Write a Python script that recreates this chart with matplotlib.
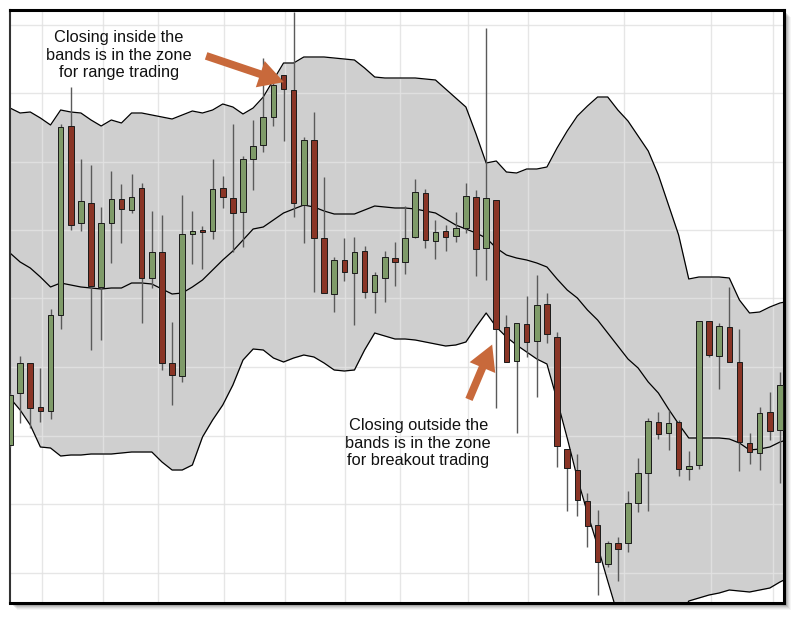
import matplotlib
matplotlib.use("Agg")
import matplotlib.pyplot as plt
from matplotlib.patches import Rectangle
import numpy as np

plt.rcParams['font.family'] = ['Liberation Sans', 'DejaVu Sans']

# ---- data (arbitrary price units) ----
opens = [17.5, 22.7, 25.7, 21.3, 20.9, 30.5, 49.4, 39.7, 41.7, 33.3,
         39.7, 42.1, 41.0, 43.2, 34.2, 36.8, 25.7, 24.4, 38.6, 39.0,
         38.9, 43.2, 42.2, 40.8, 46.1, 47.5, 50.3, 54.5, 53.0, 41.5,
         48.0, 38.2, 32.6, 36.0, 34.7, 36.9, 32.8, 34.2, 36.2, 35.8,
         38.3, 42.7, 37.9, 38.9, 38.4, 39.2, 42.3, 37.2, 42.0, 29.3,
         25.9, 29.6, 27.9, 31.6, 28.3, 17.1, 15.0, 11.9, 9.5, 5.6,
         7.7, 7.7, 11.7, 14.7, 19.8, 18.7, 19.8, 15.1, 15.5, 29.9,
         26.4, 29.3, 25.8, 17.7, 16.7, 20.8, 19.0]
highs = [22.7, 26.4, 25.7, 25.2, 31.1, 49.6, 53.3, 46.1, 45.5, 41.3,
         44.9, 43.6, 44.6, 43.7, 40.9, 40.5, 29.8, 42.5, 40.9, 39.4,
         46.1, 44.4, 49.6, 46.4, 50.0, 56.2, 54.0, 54.5, 60.8, 48.3,
         50.8, 44.3, 36.3, 38.2, 38.3, 37.4, 34.8, 36.9, 37.8, 41.4,
         44.1, 43.1, 40.0, 39.5, 40.8, 43.7, 43.0, 59.2, 42.0, 30.5,
         29.7, 32.4, 34.5, 32.7, 28.8, 17.1, 16.6, 12.7, 11.0, 7.9,
         8.3, 12.9, 16.2, 20.2, 20.8, 21.0, 20.0, 16.9, 29.9, 29.9,
         29.7, 33.3, 29.1, 18.7, 21.3, 22.8, 24.8]
lows = [17.3, 19.7, 19.2, 19.8, 20.1, 29.1, 39.0, 38.9, 27.0, 28.0,
        35.7, 37.7, 40.7, 29.7, 33.2, 25.0, 21.5, 23.8, 35.6, 35.1,
        38.1, 41.2, 36.8, 37.3, 43.0, 46.8, 49.4, 47.9, 40.3, 37.7,
        32.8, 32.7, 30.8, 33.9, 29.5, 32.2, 30.7, 31.8, 33.4, 34.6,
        38.2, 37.2, 36.1, 36.9, 37.8, 38.7, 34.4, 34.0, 21.2, 25.8,
        18.7, 26.3, 22.3, 27.7, 15.3, 10.9, 10.4, 7.3, 2.5, 5.3,
        3.9, 6.8, 10.8, 10.9, 18.1, 17.0, 14.4, 14.0, 15.1, 26.3,
        23.1, 25.8, 14.9, 15.6, 15.0, 18.0, 13.7]
closes = [22.5, 25.7, 21.2, 20.9, 30.5, 49.3, 39.5, 41.9, 33.4, 39.7,
          42.1, 41.1, 42.3, 34.2, 36.8, 25.7, 24.5, 38.6, 38.9, 38.8,
          43.1, 42.3, 40.7, 46.1, 47.4, 50.3, 53.5, 53.1, 41.7, 48.0,
          38.2, 32.7, 36.0, 34.8, 36.8, 32.8, 34.5, 36.3, 35.8, 38.2,
          42.8, 38.0, 38.8, 38.3, 39.2, 42.4, 37.1, 42.2, 29.1, 25.8,
          29.7, 27.8, 31.5, 28.6, 17.4, 15.2, 12.0, 9.4, 5.8, 7.7,
          7.1, 11.7, 14.7, 19.9, 18.6, 19.7, 15.1, 15.4, 29.9, 26.5,
          29.4, 25.8, 17.8, 16.8, 20.7, 18.9, 23.5]

# band values, one per candle plus one at the right edge of the chart
upper_band = [51.2, 50.7, 50.8, 50.2, 49.5, 51.0, 50.8, 50.7, 50.0, 49.4,
              50.0, 49.7, 50.7, 50.7, 50.5, 50.3, 50.1, 50.5, 50.9, 50.7,
              51.0, 51.6, 51.3, 50.6, 51.2, 52.3, 54.0, 55.7, 55.7, 56.3,
              56.3, 56.3, 56.2, 56.1, 56.0, 55.2, 54.3, 54.2, 54.2, 54.2,
              54.2, 54.1, 54.0, 53.1, 52.2, 51.3, 48.6, 45.7, 45.9, 44.8,
              44.7, 45.1, 45.1, 45.3, 47.2, 48.9, 50.4, 51.4, 52.3, 52.3,
              51.0, 49.9, 48.4, 46.9, 44.5, 41.5, 38.5, 34.1, 34.3, 34.3,
              34.3, 34.2, 32.0, 30.7, 30.8, 31.3, 31.7, 31.9]
middle_band = [36.7, 35.8, 35.2, 34.3, 33.3, 33.7, 33.5, 33.3, 33.2, 33.1,
               33.2, 33.2, 33.7, 33.7, 33.6, 33.1, 32.6, 32.7, 33.3, 34.0,
               35.0, 36.0, 36.9, 38.0, 39.1, 39.3, 40.0, 40.7, 41.1, 41.5,
               41.3, 40.9, 40.6, 40.6, 40.6, 41.0, 41.4, 41.3, 41.2, 41.2,
               41.1, 40.9, 40.7, 40.1, 39.5, 39.1, 38.7, 38.2, 37.2, 36.5,
               36.2, 36.0, 35.7, 35.3, 34.1, 33.0, 32.2, 31.0, 30.0, 28.7,
               27.4, 26.1, 25.2, 23.8, 22.7, 21.1, 19.6, 18.2, 18.2, 18.2,
               18.2, 18.1, 17.7, 17.0, 17.1, 17.3, 17.8, 18.1]
lower_band = [22.2, 21.0, 19.5, 17.3, 17.2, 16.4, 16.5, 16.5, 16.6, 16.6,
              16.6, 16.7, 16.8, 16.8, 16.8, 15.8, 15.0, 15.0, 15.5, 18.3,
              20.0, 21.5, 23.5, 26.0, 27.1, 27.0, 26.2, 25.8, 26.2, 26.5,
              26.3, 25.7, 25.0, 24.9, 25.0, 27.0, 28.7, 28.4, 28.1, 28.1,
              28.0, 27.8, 27.6, 27.4, 27.5, 27.8, 29.3, 30.7, 29.3, 28.3,
              27.5, 26.8, 26.1, 25.6, 22.0, 18.2, 14.2, 10.7, 7.4, 3.9,
              0.5, -1.0, -2.0, -2.5, -2.5, -1.5, 0.0, 1.9, 2.2, 2.5,
              2.7, 3.0, 2.9, 2.8, 3.0, 3.2, 3.8, 4.3]

label_range = "Closing inside the\nbands is in the zone\nfor range trading"
label_breakout = "Closing outside the\nbands is in the zone\nfor breakout trading"

# ---- styling ----
GREEN = '#7f9b69'
RED = '#8a3526'
BAND_FILL = '#cfcfcf'
ARROW = '#c8693b'

W, H = 800, 617
fig = plt.figure(figsize=(W / 100, H / 100), dpi=100)
fig.patch.set_facecolor('white')

ax_l, ax_r, ax_t, ax_b = 10, 784, 10, 603
ax = fig.add_axes([ax_l / W, (H - ax_b) / H, (ax_r - ax_l) / W, (ax_b - ax_t) / H])

# drop shadow behind the frame
for k, a in [(7, 0.04), (6, 0.05), (5, 0.07), (4, 0.09), (3, 0.12), (2, 0.15)]:
    fig.patches.append(Rectangle(((ax_l + k) / W, (H - ax_b - k) / H),
                                 (ax_r - ax_l) / W, (ax_b - ax_t) / H,
                                 transform=fig.transFigure, facecolor='black',
                                 edgecolor='none', alpha=a, zorder=-10))

ax.set_facecolor('white')
x = np.arange(len(opens))
xb = np.arange(len(upper_band))

# band
ax.fill_between(xb, lower_band, upper_band, color=BAND_FILL, zorder=1, linewidth=0)

# grid lines
vgrid = [3.16, 9.19, 14.6, 21.1, 27.1, 33.1, 38.5, 45.2, 51.1, 60.6, 69.2, 75.3]
hgrid = [59.5, 52.7, 45.8, 39.0, 32.2, 25.3, 18.4, 11.6, 4.7]
for v in vgrid:
    ax.axvline(v, color='#e2e2e2', lw=1.0, alpha=0.85, zorder=1.5)
for h in hgrid:
    ax.axhline(h, color='#e2e2e2', lw=1.0, alpha=0.85, zorder=1.5)

ax.plot(xb, upper_band, color='black', lw=0.9, zorder=2)
ax.plot(xb, lower_band, color='black', lw=0.9, zorder=2)
ax.plot(xb, middle_band, color='black', lw=0.9, zorder=2)

# candles
o = np.array(opens); c = np.array(closes)
colors = [GREEN if cc >= oo else RED for oo, cc in zip(o, c)]
ax.vlines(x, lows, highs, color='#5a5a5a', lw=1.0, zorder=3)
ax.bar(x, np.abs(c - o), bottom=np.minimum(o, c), width=0.55, color=colors,
       edgecolor='#1a1a1a', linewidth=0.7, zorder=4)

# annotations
ax.text(10.77, 56.5, label_range, ha='center', va='center', fontsize=11.8,
        color='#111111', linespacing=1.2, zorder=6)
ax.annotate('', xy=(27.3, 53.7), xytext=(19.1, 56.5),
            arrowprops=dict(arrowstyle='simple,head_length=0.9,head_width=1.0,tail_width=0.28',
                            mutation_scale=20, color=ARROW, lw=0), zorder=6)
ax.text(40.3, 17.7, label_breakout, ha='center', va='center', fontsize=11.8,
        color='#111111', linespacing=1.2, zorder=6)
ax.annotate('', xy=(47.7, 27.8), xytext=(45.2, 21.8),
            arrowprops=dict(arrowstyle='simple,head_length=0.9,head_width=1.0,tail_width=0.28',
                            mutation_scale=20, color=ARROW, lw=0), zorder=6)

ax.set_xlim(0, 76.4)
ax.set_ylim(1.7, 61.0)
ax.set_xticks([]); ax.set_yticks([])
for s in ax.spines.values():
    s.set_color('black')
    s.set_linewidth(2.2)
ax.spines['left'].set_color('#333333')
ax.spines['left'].set_linewidth(1.5)

fig.savefig('out.png', dpi=100, facecolor='white')
